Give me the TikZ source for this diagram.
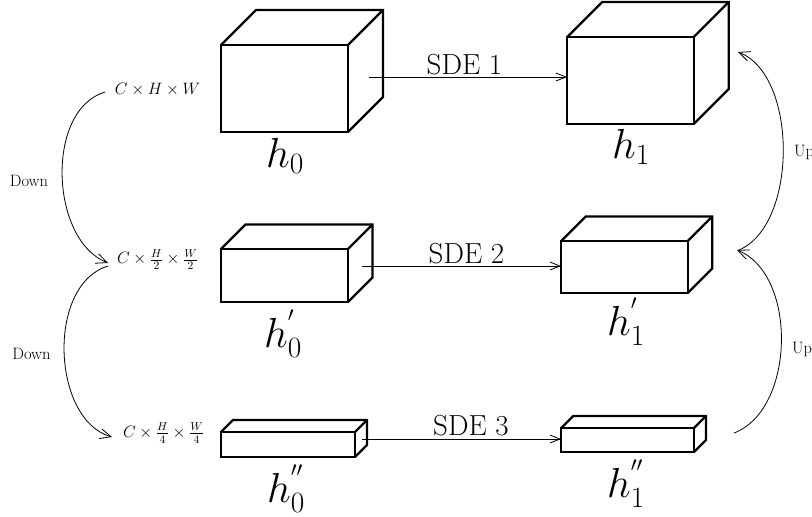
\RequirePackage{fix-cm}
\documentclass[tikz,border=0pt]{standalone}
\usetikzlibrary{arrows.meta,calc}
\newcommand{\mycube}[5]{% x1 x2 ytop ybot off
  \draw[cubeline] (#1,#3) rectangle (#2,#4);
  \draw[cubeline] (#1,#3) -- ++(#5,-#5) -- ($(#2,#3)+(#5,-#5)$) -- ($(#2,#4)+(#5,-#5)$) -- (#2,#4);
  \draw[cubeline] (#2,#3) -- ++(#5,-#5);
}
\tikzset{
  cubeline/.style={line width=2.3pt,line join=miter},
  link/.style={line width=.8pt,-{Straight Barb[length=10pt,width=8pt,line width=.8pt]}},
  curvelink/.style={line width=.8pt,-{Straight Barb[length=11pt,width=10pt,line width=.8pt]}},
  biglab/.style={font=\fontsize{42}{46}\selectfont,anchor=base,inner sep=0pt},
  sdelab/.style={font=\fontsize{29}{33}\selectfont,anchor=base,inner sep=0pt},
  smalllab/.style={font=\fontsize{16.5}{20}\selectfont,inner sep=0pt}
}
\begin{document}
\begin{tikzpicture}[x=1pt,y=-1pt]
\useasboundingbox (0,0) rectangle (812,517);
\mycube{221}{348}{45}{132}{35}
\mycube{567.3}{693.7}{37}{124}{35}
\mycube{221}{348}{249}{302}{24.5}
\mycube{561.3}{687.7}{241}{293}{24.5}
\mycube{221}{355}{432}{457}{12}
\mycube{561.3}{694}{428}{452}{12}
% horizontal links
\coordinate (a1) at (369,77); \coordinate (b1) at (567,77);
\coordinate (a2) at (362,266); \coordinate (b2) at (561,266);
\coordinate (a3) at (362,439); \coordinate (b3) at (561,439);
\draw[link] (a1) -- (b1);
\draw[link] (a2) -- (b2);
\draw[link] (a3) -- (b3);
\node[sdelab] (s1) at (464.5,74) {SDE 1};
\node[sdelab] (s2) at (466.5,263) {SDE 2};
\node[sdelab] (s3) at (471,435) {SDE 3};
% dimension labels
\node[smalllab] (d1) at (157.5,90) {$C\times H\times W$};
\node[smalllab] (d2) at (157.5,259.5) {$C\times \frac{H}{2}\times \frac{W}{2}$};
\node[smalllab] (d3) at (163.5,433) {$C\times \frac{H}{4}\times \frac{W}{4}$};
% curved links
\coordinate (c1) at (105,92); \coordinate (c2) at (108,263);
\coordinate (c3) at (108,266); \coordinate (c4) at (112,437);
\coordinate (u1) at (739,250); \coordinate (u2) at (738,52);
\coordinate (u3) at (734,433); \coordinate (u4) at (737,250);
\draw[curvelink] (c1) .. controls (45,110) and (50,240) .. (c2);
\draw[curvelink] (c3) .. controls (46,285) and (52,420) .. (c4);
\draw[curvelink] (u1) .. controls (798,225) and (798,75) .. (u2);
\draw[curvelink] (u3) .. controls (795,410) and (798,275) .. (u4);
\node[smalllab] (dn1) at (29,181) {Down};
\node[smalllab] (dn2) at (31.5,354) {Down};
\node[smalllab,anchor=west] (up1) at (794,152) {Up};
\node[smalllab,anchor=west] (up2) at (792,349) {Up};
% tensors
\node[biglab] (h0) at (285,167) {$h_0$};
\node[biglab] (h1) at (631,158) {$h_1$};
\node[biglab] (h0p) at (283,347) {$h_0^{'}$};
\node[biglab] (h1p) at (626,335) {$h_1^{'}$};
\node[biglab] (h0pp) at (286,502) {$h_0^{''}$};
\node[biglab] (h1pp) at (626,497) {$h_1^{''}$};
\end{tikzpicture}
\end{document}
